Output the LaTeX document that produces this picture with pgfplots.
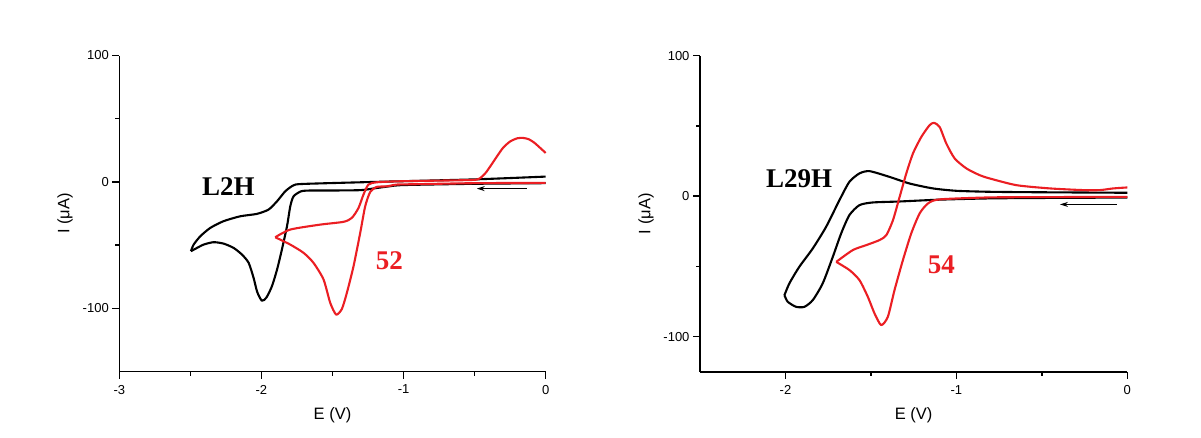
\documentclass[border=0pt]{standalone}
\usepackage{pgfplots}
\pgfplotsset{compat=1.18}
\usetikzlibrary{arrows.meta}
\usepackage{fontspec}
\setmainfont{Liberation Sans}
\newfontfamily\tnr{Liberation Serif}
\definecolor{cvred}{RGB}{235,30,35}
\tikzset{lab/.style={font=\tnr\bfseries\fontsize{27}{27}\selectfont}}
\pgfplotsset{
  cvaxis/.style={
    scale only axis,
    axis x line*=bottom, axis y line*=left,
    axis line style={line width=1.6pt},
    tick align=outside,
    major tick length=7pt, minor tick length=4pt,
    every tick/.style={line width=1.4pt, black},
    minor x tick num=1, minor y tick num=1,
    /pgf/number format/assume math mode=true,
    tick label style={font=\fontsize{13}{14}\selectfont},
    xticklabel style={yshift=-3pt},
    label style={font=\fontsize{16.5}{18}\selectfont},
    xlabel={E (V)}, ylabel={I (μA)},
    ytick={-100,0,100},
    clip=false,
  },
  blk/.style={black, line width=2.1pt, smooth, tension=0.4, no markers, line join=round},
  rd/.style={cvred, line width=2.1pt, smooth, tension=0.4, no markers, line join=round},
  arr/.style={black, line width=1pt, -{Stealth[length=8pt,width=5pt]}, no markers},
}
\begin{document}
\begin{tikzpicture}[x=1pt,y=1pt]
\path[use as bounding box] (0,0) rectangle (1201,437);
% ---------------- left panel ----------------
\begin{axis}[cvaxis, at={(119.3pt,65.5pt)}, anchor=south west,
  width=426.4pt, height=316pt,
  xmin=-3, xmax=0, ymin=-150, ymax=100,
  xtick={-3,-2,-1,0},
  xlabel style={at={(axis description cs:0.5,-0.137)}, anchor=center},
  ylabel style={at={(axis description cs:-0.127,0.5)}, anchor=center},
]
% L2H cathodic sweep
\addplot[blk] coordinates {
(0,-1) (-0.5,-1.5) (-1.0,-2.5) (-1.1,-3.5) (-1.2,-5) (-1.3,-6.5) (-1.5,-6.8) (-1.65,-6.8)
(-1.72,-7.4) (-1.774,-11.4) (-1.797,-19.3) (-1.82,-35) (-1.856,-53.5) (-1.89,-69.3)
(-1.926,-82.5) (-1.965,-91.5) (-1.997,-94) (-2.03,-87) (-2.055,-76) (-2.09,-64)
(-2.137,-57.5) (-2.196,-52.2) (-2.267,-48.8) (-2.337,-47.7) (-2.407,-49.6) (-2.466,-53)
(-2.496,-54.8)};
% L2H anodic sweep
\addplot[blk] coordinates {
(-2.496,-54.8) (-2.477,-49.6) (-2.43,-43) (-2.36,-36.4) (-2.267,-31.1) (-2.149,-27.2)
(-2.032,-25.3) (-1.95,-21.9) (-1.89,-15.3) (-1.832,-7.4) (-1.774,-2.7) (-1.704,-1.6)
(-1.2,0) (-0.5,2) (0,4.2)};
% 52 cathodic sweep
\addplot[rd] coordinates {
(0,-0.8) (-0.5,-1) (-0.9,-1.8) (-1.047,-2.1) (-1.117,-3.5) (-1.19,-4) (-1.235,-8)
(-1.27,-19.3) (-1.305,-40.3) (-1.352,-66.7) (-1.399,-87.8) (-1.434,-100.5) (-1.474,-105)
(-1.516,-95.7) (-1.563,-77.2) (-1.634,-64) (-1.704,-56.1) (-1.797,-49.6) (-1.903,-43.8)};
% 52 anodic sweep
\addplot[rd] coordinates {
(-1.903,-43.8) (-1.797,-37.7) (-1.587,-33.8) (-1.423,-31.6) (-1.364,-28.5) (-1.317,-20.6)
(-1.282,-10) (-1.247,-2.1) (-1.188,-0.3) (-1.024,0.5) (-0.6,1.3) (-0.485,1.8) (-0.45,4)
(-0.42,7.5) (-0.39,12.3) (-0.35,19) (-0.30,27) (-0.25,32) (-0.2,34.5) (-0.16,34.8)
(-0.12,33.8) (-0.08,31) (-0.04,27) (0,22.9)};
\addplot[arr] coordinates {(-0.133,-5.3) (-0.485,-5.3)};
\node[lab, black] at (axis cs:-2.233,-3.7) {L2H};
\node[lab, text=cvred] at (axis cs:-1.10,-62.7) {52};
\end{axis}
% ---------------- right panel ----------------
\begin{axis}[cvaxis, at={(700pt,65.3pt)}, anchor=south west,
  width=427.3pt, height=316pt,
  xmin=-2.5, xmax=0, ymin=-125, ymax=100,
  xtick={-2,-1,0},
  xlabel style={at={(axis description cs:0.5,-0.137)}, anchor=center},
  ylabel style={at={(axis description cs:-0.126,0.5)}, anchor=center},
]
% L29H cathodic
\addplot[blk] coordinates {
(0,-1) (-0.5,-1.3) (-0.805,-1.6) (-1.098,-2.5) (-1.332,-3.8) (-1.489,-4.5) (-1.567,-6.4)
(-1.626,-13.5) (-1.674,-26.5) (-1.723,-43.2) (-1.782,-62.1) (-1.84,-74) (-1.889,-78.8)
(-1.938,-78.8) (-1.987,-75.2) (-2.006,-70.5)};
% L29H anodic
\addplot[blk] coordinates {
(-2.006,-70.5) (-1.977,-62.1) (-1.919,-50.3) (-1.84,-37.2) (-1.762,-21.8) (-1.684,-2.8)
(-1.626,10.2) (-1.567,16.2) (-1.508,17.8) (-1.391,13.7) (-1.274,9) (-1.137,5.5)
(-1.0,3.8) (-0.805,3.1) (-0.55,2.8) (0,2.4)};
% 54 cathodic
\addplot[rd] coordinates {
(0,-0.5) (-0.5,-0.7) (-0.805,-0.9) (-1.098,-2.3) (-1.166,-5.2) (-1.215,-12.3) (-1.264,-26.5)
(-1.313,-45.6) (-1.362,-66.9) (-1.401,-85.9) (-1.44,-91.8) (-1.479,-83.5) (-1.518,-71.7)
(-1.567,-59.8) (-1.625,-52.7) (-1.703,-46.8)};
% 54 anodic
\addplot[rd] coordinates {
(-1.703,-46.8) (-1.606,-38.4) (-1.528,-34.9) (-1.45,-31.3) (-1.41,-27.8) (-1.371,-17.1)
(-1.332,-0.5) (-1.293,16.2) (-1.254,30.4) (-1.205,42.2) (-1.157,50.5) (-1.131,52.2)
(-1.098,49.3) (-1.059,37.5) (-1.01,26.8) (-0.941,19.7) (-0.863,14.9) (-0.805,12.6)
(-0.648,7.8) (-0.453,5.5) (-0.258,4.3) (-0.16,4.3) (-0.082,5.5) (0,6.2)};
\addplot[arr] coordinates {(-0.062,-5.9) (-0.394,-5.9)};
\node[lab, black] at (axis cs:-1.92,12.1) {L29H};
\node[lab, text=cvred] at (axis cs:-1.088,-49.1) {54};
\end{axis}
\end{tikzpicture}
\end{document}
